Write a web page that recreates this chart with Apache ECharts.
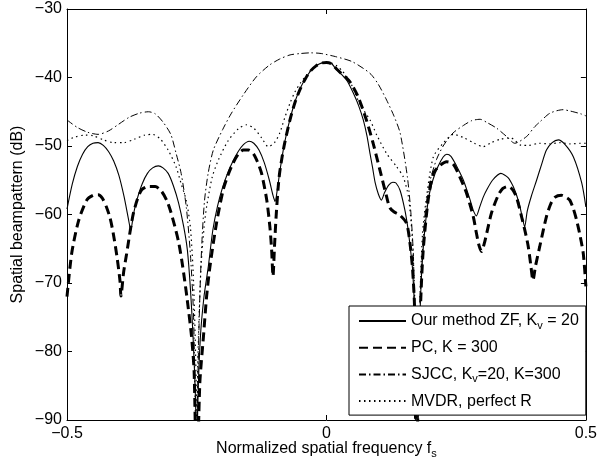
<!DOCTYPE html>
<html>
<head>
<meta charset="utf-8">
<script src="https://cdn.jsdelivr.net/npm/echarts@6/dist/echarts.min.js"></script>
<style>
  html, body { margin: 0; padding: 0; background: #fff; }
  #chart { width: 600px; height: 471px; }
</style>
</head>
<body>
<div id="chart"></div>
<script>
'use strict';

// [fs, dB]; nulls dip below the axis floor and get clipped
var zfData = [
  [-0.5, -59.2], [-0.49, -55.6], [-0.48, -53.0], [-0.47, -51.2], [-0.46, -50.1], [-0.45, -49.6],
  [-0.44, -49.5], [-0.43, -49.9], [-0.42, -50.8], [-0.41, -52.2], [-0.40, -54.3], [-0.39, -57.4],
  [-0.382, -60.5], [-0.377, -62.3], [-0.372, -60.0], [-0.365, -57.8], [-0.355, -55.5], [-0.345, -54.0],
  [-0.335, -53.2], [-0.324, -52.9], [-0.315, -53.2], [-0.305, -54.0], [-0.295, -55.8], [-0.285, -58.3],
  [-0.275, -61.8], [-0.268, -65.2], [-0.262, -71.0], [-0.257, -78], [-0.252, -88], [-0.25, -100],
  [-0.248, -88], [-0.243, -78], [-0.236, -72], [-0.228, -67.8], [-0.219, -62.3], [-0.21, -58.8],
  [-0.20, -56.0], [-0.19, -53.9], [-0.18, -52.2], [-0.17, -50.8], [-0.16, -49.8], [-0.149, -49.3],
  [-0.14, -49.6], [-0.13, -50.6], [-0.12, -52.4], [-0.11, -55.0], [-0.103, -57.2], [-0.099, -58.1],
  [-0.094, -56.0], [-0.09, -53.8], [-0.085, -51.4], [-0.08, -49.3], [-0.07, -46.0], [-0.06, -43.4],
  [-0.05, -41.5], [-0.04, -40.1], [-0.03, -39.0], [-0.02, -38.3], [-0.01, -37.9], [0, -37.8],
  [0.01, -38.0], [0.02, -38.9], [0.03, -39.6], [0.04, -40.5], [0.052, -42.3], [0.062, -44.1],
  [0.071, -46.2], [0.078, -48.5], [0.084, -51.1], [0.089, -53.2], [0.094, -55.4], [0.1, -57.0],
  [0.106, -57.9], [0.112, -56.8], [0.12, -55.7], [0.128, -55.3], [0.134, -55.4], [0.142, -56.5],
  [0.151, -59.3], [0.157, -62], [0.161, -64.5], [0.166, -68], [0.17, -75], [0.174, -100],
  [0.178, -85], [0.181, -73], [0.1865, -65], [0.196, -58], [0.205, -55], [0.215, -53],
  [0.225, -51.6], [0.232, -51.2], [0.24, -51.5], [0.25, -52.8], [0.264, -55], [0.277, -57.9],
  [0.283, -59.4], [0.289, -60.2], [0.295, -59.0], [0.302, -57.5], [0.309, -56.4], [0.32, -55.0],
  [0.336, -54.0], [0.35, -54.6], [0.36, -55.9], [0.367, -57.3], [0.373, -58.9], [0.378, -60.6],
  [0.382, -61.8], [0.387, -59.5], [0.395, -57.3], [0.405, -55.0], [0.415, -52.6], [0.424, -50.6],
  [0.435, -49.5], [0.447, -49.1], [0.46, -49.8], [0.476, -51.6], [0.492, -55.4], [0.5, -58.9]
];

var pcData = [
  [-0.5, -72.0], [-0.491, -65.7], [-0.478, -61.0], [-0.462, -57.9], [-0.45, -57.2], [-0.44, -57.1],
  [-0.432, -57.6], [-0.424, -58.9], [-0.417, -60.5], [-0.411, -62.7], [-0.404, -66.0], [-0.398, -69.6],
  [-0.396, -71.9], [-0.391, -68.5], [-0.385, -65.7], [-0.378, -62.3], [-0.372, -59.8], [-0.364, -57.7],
  [-0.356, -56.4], [-0.343, -55.9], [-0.33, -55.9], [-0.318, -56.6], [-0.308, -57.9], [-0.3, -59.6],
  [-0.292, -61.8], [-0.285, -64.0], [-0.279, -66.6], [-0.274, -69.2], [-0.269, -72.0], [-0.26, -77.8],
  [-0.255, -83], [-0.25, -100], [-0.244, -84.6], [-0.237, -77.8], [-0.231, -72.0], [-0.2245, -67.6],
  [-0.212, -61.3], [-0.199, -56.4], [-0.19, -54.3], [-0.18, -52.5], [-0.17, -51.2], [-0.16, -50.6],
  [-0.15, -50.6], [-0.141, -51.1], [-0.133, -52.3], [-0.125, -54.0], [-0.115, -57.9], [-0.109, -61.8],
  [-0.1056, -65.2], [-0.103, -69.0], [-0.1, -64.5], [-0.097, -60.3], [-0.093, -56.0], [-0.09, -53.8],
  [-0.085, -51.4], [-0.08, -49.4], [-0.07, -46.1], [-0.06, -43.5], [-0.05, -41.6], [-0.04, -40.1],
  [-0.03, -39.0], [-0.02, -38.3], [-0.01, -37.9], [0, -37.8], [0.01, -38.0], [0.02, -38.8],
  [0.03, -39.5], [0.045, -40.6], [0.061, -42.8], [0.077, -46.2], [0.09, -49.6], [0.103, -53.5],
  [0.116, -57.4], [0.122, -59.0], [0.13, -59.6], [0.1416, -60.1], [0.1545, -61.3], [0.161, -64.2],
  [0.166, -68], [0.17, -74], [0.173, -100], [0.178, -82], [0.182, -72], [0.1865, -65.2],
  [0.196, -57.9], [0.206, -54.0], [0.218, -52.9], [0.2316, -52.3], [0.244, -52.6], [0.257, -54.5],
  [0.27, -56.9], [0.283, -60.3], [0.289, -62.7], [0.294, -64.5], [0.299, -65.4], [0.304, -64.3],
  [0.309, -62.7], [0.318, -59.8], [0.331, -57.2], [0.34, -56.2], [0.35, -55.9], [0.358, -56.3],
  [0.366, -57.4], [0.376, -60.3], [0.383, -62.5], [0.389, -64.7], [0.394, -67.5], [0.398, -69.6],
  [0.403, -67.5], [0.411, -64.7], [0.424, -60.3], [0.432, -58.5], [0.44, -57.5], [0.453, -57.2],
  [0.462, -57.5], [0.469, -57.9], [0.476, -59.2], [0.482, -60.8], [0.488, -62.8], [0.495, -65.7],
  [0.5, -70.5]
];

var sjccData = [
  [-0.5, -46.2], [-0.48, -47.3], [-0.46, -48.0], [-0.44, -48.3], [-0.42, -47.8], [-0.40, -46.8],
  [-0.38, -45.8], [-0.36, -45.2], [-0.343, -45.0], [-0.33, -45.3], [-0.315, -46.5], [-0.30, -48.3],
  [-0.29, -51], [-0.28, -54], [-0.27, -59], [-0.262, -66], [-0.256, -75], [-0.25, -100],
  [-0.248, -85], [-0.244, -72], [-0.24, -64], [-0.235, -58], [-0.228, -54], [-0.218, -50.6],
  [-0.20, -47.6], [-0.183, -45.2], [-0.16, -42.5], [-0.135, -39.9], [-0.11, -38.2], [-0.09, -37.3],
  [-0.07, -36.7], [-0.05, -36.5], [-0.03, -36.4], [-0.01, -36.5], [0.02, -37.0], [0.05, -37.7],
  [0.084, -39.4], [0.10, -41.0], [0.116, -43.3], [0.13, -45.6], [0.142, -48.1], [0.156, -54.5],
  [0.163, -60], [0.168, -67], [0.173, -100], [0.177, -85], [0.182, -70], [0.19, -60],
  [0.20, -55], [0.212, -52], [0.225, -50], [0.244, -48.1], [0.264, -47], [0.28, -46.3],
  [0.296, -46.1], [0.31, -46.6], [0.328, -47.4], [0.347, -48.6], [0.363, -49.6], [0.386, -48.6],
  [0.40, -47.3], [0.411, -46.5], [0.431, -45.2], [0.456, -44.7], [0.47, -44.9], [0.49, -45.3],
  [0.5, -45.6]
];

var mvdrData = [
  [-0.5, -49.2], [-0.485, -48.7], [-0.465, -48.4], [-0.45, -48.5], [-0.43, -49.1], [-0.41, -49.5],
  [-0.39, -49.5], [-0.37, -49.0], [-0.35, -48.4], [-0.335, -48.3], [-0.32, -49.0], [-0.305, -50.6],
  [-0.29, -53.0], [-0.28, -55.5], [-0.27, -58], [-0.262, -62], [-0.256, -70], [-0.251, -85],
  [-0.25, -100], [-0.248, -82], [-0.242, -68], [-0.236, -62], [-0.231, -58.9], [-0.22, -54.5],
  [-0.208, -52.0], [-0.19, -49.3], [-0.17, -47.5], [-0.154, -46.9], [-0.14, -47.4], [-0.125, -48.8],
  [-0.112, -50.1], [-0.10, -49.5], [-0.09, -48.1], [-0.08, -45.8], [-0.07, -43.7], [-0.06, -42.0],
  [-0.05, -40.8], [-0.04, -39.8], [-0.03, -38.9], [-0.02, -38.3], [-0.01, -37.9], [0, -37.8],
  [0.01, -37.9], [0.02, -38.3], [0.03, -39.0], [0.04, -40.0], [0.05, -41.3], [0.065, -44.0],
  [0.084, -46.2], [0.097, -48.4], [0.116, -51.1], [0.135, -53.0], [0.148, -54.5], [0.158, -57.4],
  [0.165, -63], [0.17, -72], [0.174, -100], [0.178, -78], [0.185, -63], [0.193, -57.4],
  [0.206, -51.6], [0.225, -49.6], [0.245, -48.3], [0.265, -48.8], [0.285, -49.6], [0.302, -50.1],
  [0.318, -49.5], [0.335, -49.0], [0.355, -48.8], [0.376, -49.9], [0.39, -49.9], [0.41, -49.6],
  [0.43, -49.7], [0.45, -49.5], [0.47, -49.7], [0.49, -49.6], [0.5, -49.6]
];

var seriesNames = ['zf', 'pc', 'sjcc', 'mvdr'];
var legendLabels = {
  zf: 'Our method ZF, K{sub|v} = 20',
  pc: 'PC, K = 300',
  sjcc: 'SJCC, K{sub|v}=20, K=300',
  mvdr: 'MVDR, perfect R'
};

var FONT = 'Liberation Sans, Arial, Helvetica, sans-serif';
var subStyle = { fontFamily: FONT, fontSize: 11, lineHeight: 12, color: '#000', verticalAlign: 'bottom' };

function minusFmt(v) {
  return String(v).replace('-', '\u2212');
}

function mkLine(name, data, width, dash) {
  return {
    name: name,
    type: 'line',
    data: data,
    symbol: 'none',
    smooth: 0.25,
    clip: true,
    animation: false,
    itemStyle: { color: '#000' },
    lineStyle: { color: '#000', width: width, type: dash }
  };
}

var chart = echarts.init(document.getElementById('chart'));

var tickStyle = { show: true, inside: true, length: 5, lineStyle: { color: '#000', width: 1 } };
var lineAx = { show: true, onZero: false, lineStyle: { color: '#000', width: 1 } };

var option = {
  backgroundColor: '#fff',
  animation: false,
  grid: { left: 67, right: 14, top: 9, bottom: 51 },
  legend: {
    orient: 'vertical',
    left: 349,
    top: 306,
    padding: [5, 7, 4, 9],
    itemWidth: 47,
    itemHeight: 14,
    itemGap: 6.7,
    backgroundColor: '#fff',
    borderColor: '#000',
    borderWidth: 1,
    borderRadius: 0,
    itemStyle: { opacity: 0 },
    data: seriesNames,
    formatter: function (n) { return legendLabels[n]; },
    textStyle: {
      fontFamily: FONT,
      fontSize: 16,
      color: '#000',
      lineHeight: 20,
      rich: { sub: subStyle }
    }
  },
  xAxis: [
    {
      type: 'value',
      min: -0.5,
      max: 0.5,
      interval: 0.5,
      position: 'bottom',
      axisLine: lineAx,
      axisTick: tickStyle,
      splitLine: { show: false },
      axisLabel: { color: '#000', fontFamily: FONT, fontSize: 16, margin: 6, formatter: minusFmt },
      name: 'Normalized spatial frequency f{sub|s}',
      nameLocation: 'middle',
      nameGap: 19,
      nameMoveOverlap: false,
      nameTextStyle: {
        color: '#000', fontFamily: FONT, fontSize: 16, lineHeight: 20,
        rich: { sub: subStyle }
      }
    },
    {
      type: 'value', min: -0.5, max: 0.5, interval: 0.5, position: 'top',
      axisLine: lineAx, axisTick: tickStyle, axisLabel: { show: false }, splitLine: { show: false }
    }
  ],
  yAxis: [
    {
      type: 'value',
      min: -90,
      max: -30,
      interval: 10,
      position: 'left',
      axisLine: lineAx,
      axisTick: tickStyle,
      splitLine: { show: false },
      axisLabel: { color: '#000', fontFamily: FONT, fontSize: 16, margin: 5, formatter: minusFmt },
      name: 'Spatial beampattern (dB)',
      nameLocation: 'middle',
      nameGap: 41,
      nameMoveOverlap: false,
      nameTextStyle: { color: '#000', fontFamily: FONT, fontSize: 16 }
    },
    {
      type: 'value', min: -90, max: -30, interval: 10, position: 'right',
      axisLine: lineAx, axisTick: tickStyle, axisLabel: { show: false }, splitLine: { show: false }
    }
  ],
  series: [
    mkLine('zf', zfData, 1.1, 'solid'),
    mkLine('pc', pcData, 3, [9, 5]),
    mkLine('sjcc', sjccData, 1, [7, 3, 1.5, 3]),
    mkLine('mvdr', mvdrData, 1.2, [1.5, 3.5])
  ]
};

chart.setOption(option);
</script>
</body>
</html>
